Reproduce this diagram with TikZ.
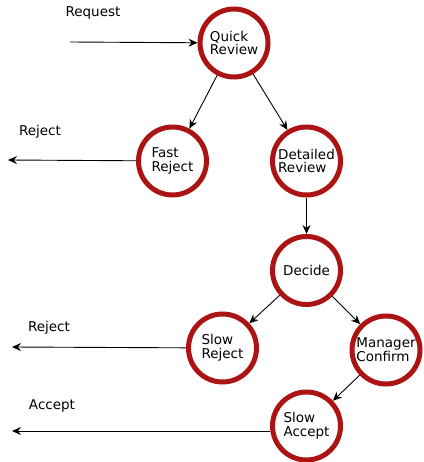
\documentclass[tikz,border=0pt]{standalone}
\usepackage{fontspec}
\setmainfont{DejaVu Sans}
\usetikzlibrary{arrows.meta}
\definecolor{ringred}{RGB}{172,20,20}
\tikzset{
  state/.style={circle, draw=ringred, line width=5pt, minimum size=68pt, inner sep=0pt,
    align=left, font=\fontsize{13.5}{13.8}\selectfont, fill=white},
  lbl/.style={font=\fontsize{13.5}{14}\selectfont, inner sep=0pt},
  conn/.style={draw=black, line width=0.9pt, -{Stealth[length=9pt,width=8pt,inset=3pt]}}
}
\begin{document}
\begin{tikzpicture}[x=1pt,y=-1pt]
\useasboundingbox (0,0) rectangle (423,462);
\node[state] (qr) at (234,43) {Quick\\Review};
\node[state] (fr) at (172.5,161) {Fast\\Reject};
\node[state] (dr) at (306.5,161) {Detailed\\Review};
\node[state] (de) at (306.5,270.5) {Decide};
\node[state] (sr) at (222.5,348) {Slow\\Reject};
\node[state] (mc) at (386,350) {Manager\\Confirm};
\node[state] (sa) at (306.5,426) {Slow\\Accept};

\coordinate (req) at (70,42);
\coordinate (rej1) at (8,160);
\coordinate (rej2) at (12,347);
\coordinate (acc) at (12,431);

\node[lbl] (treq) at (93,13) {Request};
\node[lbl] (trej1) at (40,132) {Reject};
\node[lbl] (trej2) at (49,328) {Reject};
\node[lbl] (tacc) at (52,406) {Accept};

\draw[conn] (req) -- (qr);
\draw[conn] (qr) -- (fr);
\draw[conn] (qr) -- (dr);
\draw[conn] (fr) -- (rej1);
\draw[conn] (dr) -- (de);
\draw[conn] (de) -- (sr);
\draw[conn] (de) -- (mc);
\draw[conn] (sr) -- (rej2);
\draw[conn] (mc) -- (sa);
\draw[conn] (sa.west |- acc) -- (acc);
\end{tikzpicture}
\end{document}
